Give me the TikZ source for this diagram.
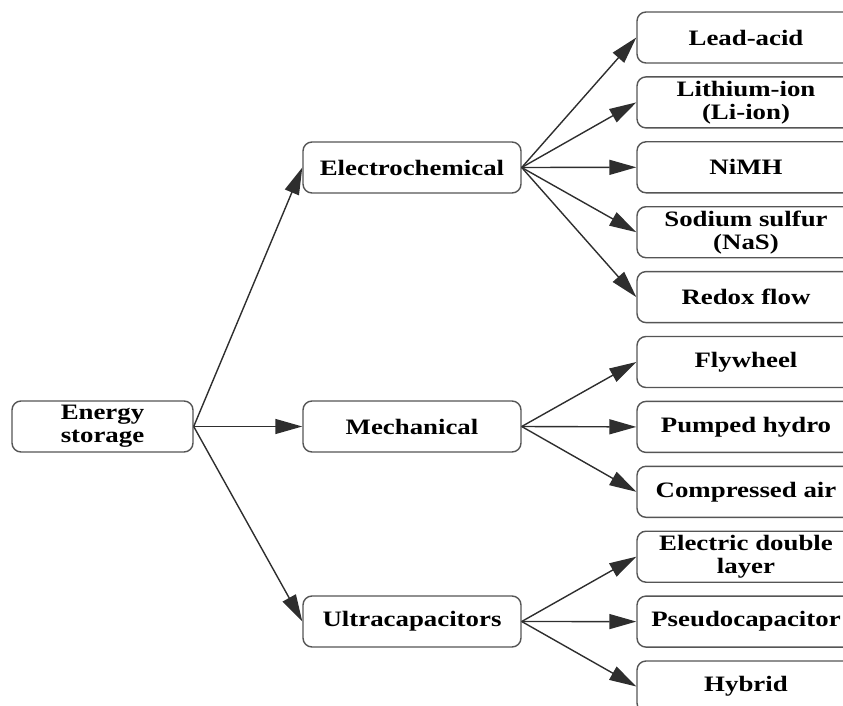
\documentclass[tikz,border=0pt]{standalone}
\usepackage{fontspec}
\setmainfont[FakeStretch=1.22]{Liberation Serif}
\usetikzlibrary{arrows.meta}
\definecolor{boxline}{HTML}{555555}
\definecolor{arrline}{HTML}{2E2E2E}
\begin{document}
\begin{tikzpicture}[x=1pt,y=-1pt,
  box/.style={draw=boxline,line width=1.4pt,rounded corners=9pt,fill=white,
    minimum height=51pt,inner sep=0pt,align=center,
    font=\fontsize{22}{23}\selectfont\bfseries},
  midbox/.style={box,minimum width=218pt},
  leafbox/.style={box,minimum width=218pt},
  rootbox/.style={box,minimum width=181pt},
  conn/.style={draw=arrline,line width=1.4pt,-{Triangle[length=27pt,width=15pt]}}]
\useasboundingbox (0,0) rectangle (843,706);
\clip (0,0) rectangle (843,706);
\node[rootbox] (es) at (102.5,426.5) {Energy\\storage};
\node[midbox] (ec) at (412,167.5) {Electrochemical};
\node[midbox] (me) at (412,426.5) {Mechanical};
\node[midbox] (uc) at (412,621.5) {Ultracapacitors};
\node[leafbox] (l1) at (746,37.5) {Lead-acid};
\node[leafbox] (l2) at (746,102.4) {Lithium-ion\\(Li-ion)};
\node[leafbox] (l3) at (746,167.3) {NiMH};
\node[leafbox] (l4) at (746,232.2) {Sodium sulfur\\(NaS)};
\node[leafbox] (l5) at (746,297.1) {Redox flow};
\node[leafbox] (l6) at (746,362) {Flywheel};
\node[leafbox] (l7) at (746,426.9) {Pumped hydro};
\node[leafbox] (l8) at (746,491.8) {Compressed air};
\node[leafbox] (l9) at (746,556.7) {Electric double\\layer};
\node[leafbox] (l10) at (746,621.6) {Pseudocapacitor};
\node[leafbox] (l11) at (746,686.5) {Hybrid};
\foreach \t in {ec,me,uc} \draw[conn] (es.east) -- (\t.west);
\foreach \t in {l1,l2,l3,l4,l5} \draw[conn] (ec.east) -- (\t.west);
\foreach \t in {l6,l7,l8} \draw[conn] (me.east) -- (\t.west);
\foreach \t in {l9,l10,l11} \draw[conn] (uc.east) -- (\t.west);
\end{tikzpicture}
\end{document}
